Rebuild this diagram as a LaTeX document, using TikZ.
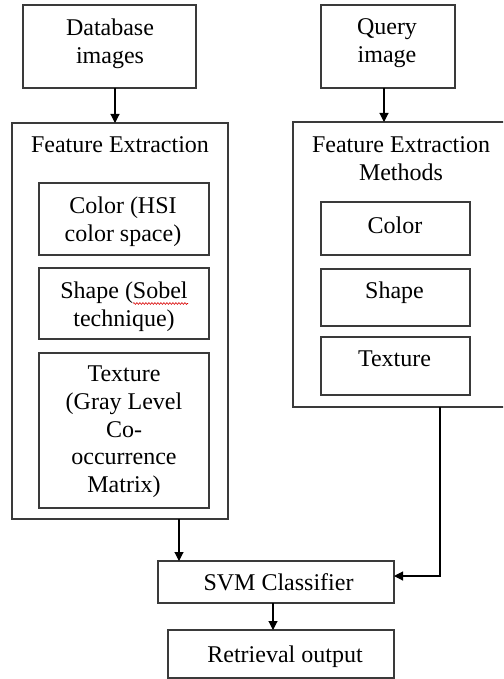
\documentclass[tikz,border=0pt]{standalone}
\usepackage{fontspec}
\setmainfont{Liberation Serif}
\usetikzlibrary{arrows.meta,decorations.pathmorphing}
\definecolor{linec}{HTML}{3A3A3A}
\begin{document}
\begin{tikzpicture}[x=1pt,y=-1pt,
  box/.style={draw=linec, line width=1.1pt, rectangle, inner sep=0pt, outer sep=0pt},
  txt/.style={align=center, inner sep=0pt, anchor=north, font=\fontsize{24}{27.8}\selectfont},
  arr/.style={draw=black, line width=1.1pt, -{Triangle[length=9pt,width=9pt]}}]
\clip (0,0) rectangle (503,679);
\fill[white] (0,0) rectangle (503,679);
% outer boxes
\node[box, minimum width=173pt, minimum height=83pt] (db) at (109.5,46.5) {};
\node[box, minimum width=134pt, minimum height=83pt] (qi) at (388,46.5) {};
\node[box, minimum width=216pt, minimum height=396pt] (fel) at (120,321) {};
\node[box, minimum width=216pt, minimum height=285pt] (fer) at (401,264.5) {};
% inner left
\node[box, minimum width=170pt, minimum height=72pt] (lc) at (124,219) {};
\node[box, minimum width=170pt, minimum height=71pt] (ls) at (124,303.5) {};
\node[box, minimum width=170pt, minimum height=155pt] (lt) at (124,430.5) {};
% inner right
\node[box, minimum width=149pt, minimum height=53pt] (rc) at (395.5,228.5) {};
\node[box, minimum width=149pt, minimum height=57pt] (rs) at (395.5,297.5) {};
\node[box, minimum width=149pt, minimum height=58pt] (rt) at (395.5,366) {};
% bottom
\node[box, minimum width=236pt, minimum height=42pt] (svm) at (276,582) {};
\node[box, minimum width=226pt, minimum height=48pt] (ret) at (281,654) {};
% texts
\node[txt] (tdb) at (110,18.5) {Database\\images};
\node[txt] (tqi) at (387,18.5) {Query\\image};
\node[txt] (tfel) at (120,136.5) {Feature Extraction};
\node[txt] (tfer) at (401,136.5) {Feature Extraction\\Methods};
\node[txt] (tlc) at (123,196.5) {Color (HSI\\color space)};
\node[txt] (tls) at (124,281.5) {Shape (Sobel\\technique)};
\node[txt] (tlt) at (124,365.5) {Texture\\(Gray Level\\Co-\\occurrence\\Matrix)};
\node[txt] (trc) at (395,216.5) {Color};
\node[txt] (trs) at (394.5,281.5) {Shape};
\node[txt] (trt) at (394.5,350.5) {Texture};
\node[txt] (tsvm) at (278.5,573.5) {SVM Classifier};
\node[txt] (tret) at (285,645.5) {Retrieval output};
% spell-check underline
\coordinate (wa) at (133,303.5);
\coordinate (wb) at (188,303.5);
\draw[red!85!black, line width=0.6pt, decorate, decoration={snake, amplitude=0.9pt, segment length=3pt}] (wa) -- (wb);
% connectors
\draw[arr] (db.south -| 115,0) -- (fel.north -| 115,0);
\draw[arr] (qi.south -| 384,0) -- (fer.north -| 384,0);
\draw[arr] (fel.south -| 179,0) -- (svm.north -| 179,0);
\coordinate (bend) at (440,576);
\draw[arr] (fer.south -| bend) -- (bend) -- (svm.east |- bend);
\draw[arr] (svm.south -| 273,0) -- (ret.north -| 273,0);
\end{tikzpicture}
\end{document}
